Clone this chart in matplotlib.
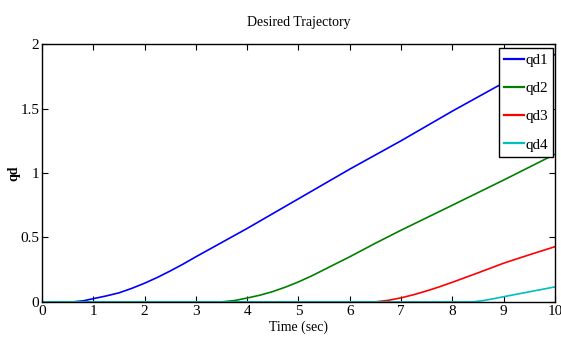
import numpy as np
import matplotlib
matplotlib.use('Agg')
import matplotlib.pyplot as plt

plt.rcParams['font.family'] = ['Liberation Serif', 'DejaVu Serif']

# desired joint trajectories
t1 = [0, 0.6, 0.8, 1, 1.25, 1.5, 1.75, 2, 2.25, 2.5, 2.75, 3, 3.25, 3.5, 4, 5, 6, 7, 8, 9, 10]
qd1 = [0, 0, 0.008, 0.025, 0.046, 0.07, 0.105, 0.145, 0.19, 0.24, 0.293, 0.35, 0.405,
       0.46, 0.57, 0.80, 1.03, 1.25, 1.48, 1.70, 1.92]
t2 = [0, 3.5, 3.75, 4, 4.25, 4.5, 4.75, 5, 5.25, 5.5, 5.75, 6, 6.5, 7, 8, 9, 10]
qd2 = [0, 0, 0.01, 0.03, 0.052, 0.08, 0.115, 0.155, 0.2, 0.25, 0.3, 0.35, 0.455,
       0.556, 0.75, 0.945, 1.145]
t3 = [0, 6.5, 6.75, 7, 7.25, 7.5, 7.75, 8, 8.5, 9, 9.5, 10]
qd3 = [0, 0, 0.012, 0.031, 0.056, 0.085, 0.117, 0.152, 0.225, 0.30, 0.365, 0.428]
t4 = [0, 8.4, 8.6, 8.8, 9, 9.5, 10]
qd4 = [0, 0, 0.01, 0.024, 0.04, 0.078, 0.116]

names = ['qd1', 'qd2', 'qd3', 'qd4']
colors = ['#0000ff', '#008000', '#ff0000', '#00bfbf']

fig = plt.figure(figsize=(5.61, 3.45), dpi=100)
ax = fig.add_axes([0.075, 0.125, 0.914, 0.747])

for x, y, c, n in zip([t1, t2, t3, t4], [qd1, qd2, qd3, qd4], colors, names):
    ax.plot(x, y, color=c, lw=1.2, label=n)

ax.set_xlim(0, 10)
ax.set_ylim(0, 2)
ax.set_xticks(range(0, 11))
ax.set_yticks([0, 0.5, 1, 1.5, 2])
ax.set_yticklabels(['0', '0.5', '1', '1.5', '2'])
ax.tick_params(direction='in', top=True, right=True, labelsize=11, length=4,
               pad=2, width=0.8)
for s in ax.spines.values():
    s.set_linewidth(1.0)

ax.set_title('Desired Trajectory', fontsize=10, pad=13)
ax.set_xlabel('Time (sec)', fontsize=10, labelpad=2)
ax.set_ylabel('qd', fontsize=10, fontweight='bold', labelpad=0)

leg = ax.legend(loc='upper right', bbox_to_anchor=(0.997, 0.985), fontsize=11,
                fancybox=False, edgecolor='black', framealpha=1,
                handlelength=1.3, handletextpad=0.1, labelspacing=0.95,
                borderpad=0.35, borderaxespad=0)
leg.get_frame().set_linewidth(1.0)
for h in leg.get_lines():
    h.set_linewidth(1.6)

fig.savefig('out.png', dpi=100)
